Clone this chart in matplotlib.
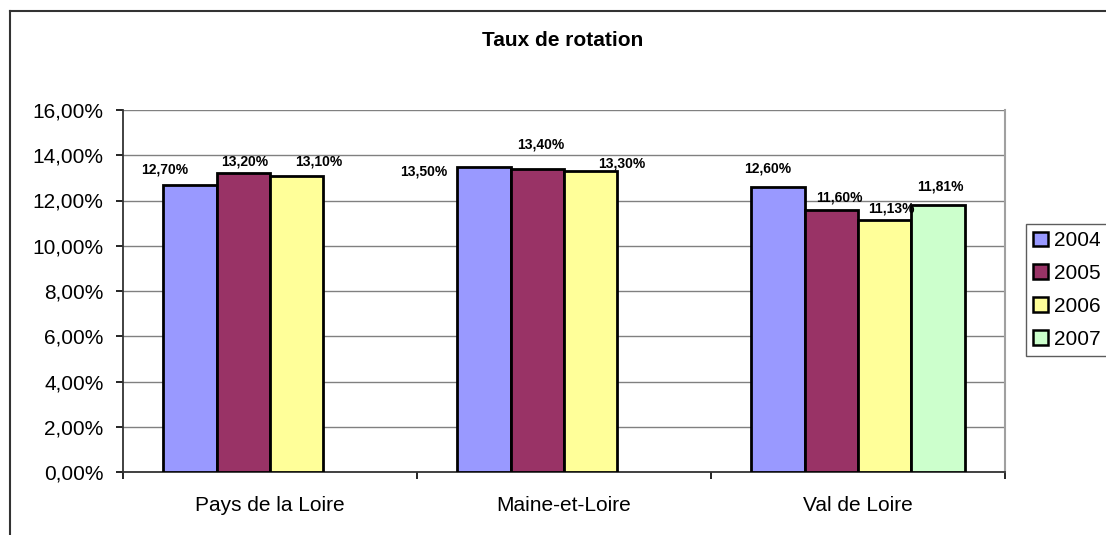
import numpy as np
import matplotlib
matplotlib.use("Agg")
import matplotlib.pyplot as plt
from matplotlib.lines import Line2D
from matplotlib.ticker import FuncFormatter

plt.rcParams['font.family'] = ['Liberation Sans', 'DejaVu Sans']

# données (en %)
categories = ["Pays de la Loire", "Maine-et-Loire", "Val de Loire"]
years = ["2004", "2005", "2006", "2007"]
taux_2004 = [12.70, 13.50, 12.60]
taux_2005 = [13.20, 13.40, 11.60]
taux_2006 = [13.10, 13.30, 11.13]
taux_2007 = [np.nan, np.nan, 11.81]
series = [taux_2004, taux_2005, taux_2006, taux_2007]
colors = ["#9999FF", "#993366", "#FFFF99", "#CCFFCC"]

# décalage des étiquettes (pixels) comme dans le classeur d'origine
label_dx = [[-25, -60, -10], [1, 3, 8], [22, 31, 7], [0, 0, 2]]
label_dy = [[15, -5, 18], [12, 24, 12], [14, 8, 12], [0, 0, 18]]

fig = plt.figure(figsize=(11.06, 5.35), dpi=100)
ax = fig.add_axes([123 / 1106, 1 - 472 / 535, (1005 - 123) / 1106, (472 - 110) / 535])

x = np.arange(len(categories))
w = 1 / (len(years) + 1.5)
for i, vals in enumerate(series):
    pos = x + (i - 1.5) * w
    ax.bar(pos, vals, w, color=colors[i], edgecolor="black", linewidth=2.0,
           label=years[i], zorder=3)
    for j, v in enumerate(vals):
        if np.isnan(v):
            continue
        ax.annotate(f"{v:.2f}%".replace(".", ","), (pos[j], v),
                    xytext=(label_dx[i][j], label_dy[i][j]), textcoords="offset pixels",
                    ha="center", va="center", fontsize=10, fontweight="bold", zorder=4)

ax.set_xlim(-0.5, len(categories) - 0.5)
ax.set_ylim(0, 16)
ax.set_yticks(np.arange(0, 17, 2))
ax.yaxis.set_major_formatter(FuncFormatter(lambda v, p: f"{v:.2f}%".replace(".", ",")))
ax.set_xticks(x)
ax.set_xticklabels(categories)
ax.set_xticks(np.arange(-0.5, len(categories)), minor=True)
ax.tick_params(axis="x", which="major", length=0, pad=17, labelsize=15)
ax.tick_params(axis="x", which="minor", length=5, width=1.2, direction="out")
ax.tick_params(axis="y", length=5, width=1.2, pad=9, labelsize=15)

ax.yaxis.grid(True, color="#808080", linewidth=1.0, zorder=0)
ax.spines["top"].set_visible(False)
ax.spines["right"].set_color("#A0A0A0")
ax.spines["right"].set_linewidth(1.5)
for s in ["left", "bottom"]:
    ax.spines[s].set_color("#333333")
    ax.spines[s].set_linewidth(1.3)

fig.text(563 / 1106, 1 - 41 / 535, "Taux de rotation", ha="center", va="center",
         fontsize=15, fontweight="bold")

leg = ax.legend(loc="upper left", bbox_to_anchor=(1026 / 1106, 1 - 224 / 535),
                bbox_transform=fig.transFigure, fontsize=15, frameon=True, fancybox=False,
                handlelength=0.7, handleheight=0.7, handletextpad=0.3, labelspacing=0.66,
                borderpad=0.35, borderaxespad=0)
leg.get_frame().set_edgecolor("#333333")
leg.get_frame().set_linewidth(1.0)
for h in leg.legend_handles:
    h.set_linewidth(1.8)

# cadre du graphique
fig.add_artist(Line2D([10 / 1106, 10 / 1106], [0, 1 - 11 / 535], transform=fig.transFigure,
                      color="#333333", linewidth=1.5))
fig.add_artist(Line2D([10 / 1106, 1], [1 - 11 / 535, 1 - 11 / 535], transform=fig.transFigure,
                      color="#333333", linewidth=1.5))

fig.savefig("out.png", dpi=100)
